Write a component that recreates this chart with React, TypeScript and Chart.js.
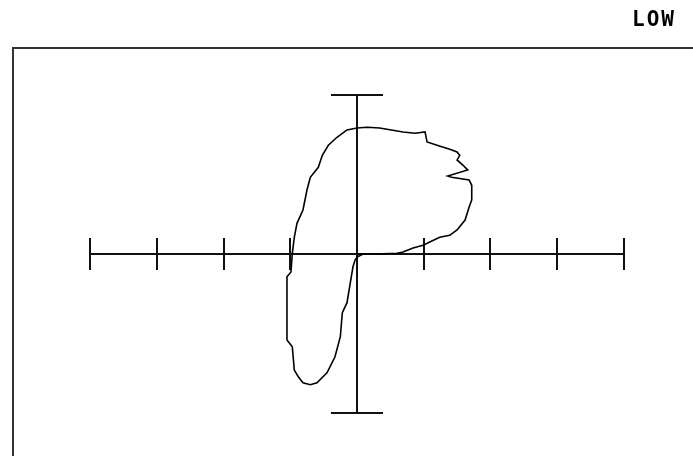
import React, { useEffect, useRef } from "react";
import { Chart, registerables } from "chart.js";

Chart.register(...registerables);

// Loop trace (x, y) in axis units, one unit per tick on the horizontal axis
const traceX = [
  0, 0.27, 0.6, 0.69, 0.84, 0.99, 1.09, 1.24, 1.39, 1.5, 1.62, 1.68, 1.72, 1.72, 1.68, 1.42, 1.36, 1.66, 1.59, 1.5,
  1.54, 1.5, 1.39, 1.2, 1.05, 1.02, 0.87, 0.69, 0.34, 0.15, 0, -0.15, -0.3, -0.43, -0.52, -0.58, -0.7, -0.75, -0.81,
  -0.9, -0.94, -0.97, -0.99, -1.05, -1.05, -0.97, -0.94, -0.88, -0.81, -0.7, -0.6, -0.45, -0.33, -0.25, -0.22, -0.15,
  -0.1, -0.06, -0.03, 0.01, 0.07,
];
const traceY = [
  0, 0, 0.01, 0.03, 0.09, 0.13, 0.18, 0.25, 0.28, 0.36, 0.51, 0.7, 0.81, 1.03, 1.11, 1.15, 1.17, 1.26, 1.33, 1.41,
  1.48, 1.53, 1.57, 1.63, 1.68, 1.83, 1.81, 1.83, 1.89, 1.9, 1.89, 1.86, 1.75, 1.63, 1.48, 1.3, 1.15, 0.96, 0.66,
  0.46, 0.25, 0.01, -0.27, -0.34, -1.29, -1.39, -1.74, -1.84, -1.93, -1.96, -1.93, -1.78, -1.54, -1.24, -0.88, -0.73,
  -0.43, -0.19, -0.09, -0.04, -0.01,
];

// Horizontal axis tick positions
const xTicks = [-4, -3, -2, -1, 0, 1, 2, 3, 4];
// Vertical axis extent (end caps)
const yAxisEnds = [-2.385, 2.385];
// Frame corner (left, top) in axis units
const frameCorner = [-5.16, 3.09];
const modeLabel = "LOW";

const X_MIN = -5.352;
const X_MAX = 5.037;
const Y_MIN = -3.028;
const Y_MAX = 3.808;

const overlay = {
  id: "scopeOverlay",
  beforeDatasetsDraw(chart: any) {
    const { ctx } = chart;
    const xs = chart.scales.x;
    const ys = chart.scales.y;
    const px = (v: number) => xs.getPixelForValue(v);
    const py = (v: number) => ys.getPixelForValue(v);
    ctx.save();
    ctx.lineCap = "butt";

    // frame
    ctx.strokeStyle = "#333";
    ctx.lineWidth = 2;
    ctx.beginPath();
    const fl = Math.round(px(frameCorner[0]));
    const ft = Math.round(py(frameCorner[1]));
    ctx.moveTo(fl, chart.height + 5);
    ctx.lineTo(fl, ft);
    ctx.lineTo(chart.width + 5, ft);
    ctx.stroke();

    // horizontal axis with ticks
    ctx.strokeStyle = "#111";
    ctx.lineWidth = 2;
    const y0 = Math.round(py(0));
    ctx.beginPath();
    ctx.moveTo(px(xTicks[0]), y0);
    ctx.lineTo(px(xTicks[xTicks.length - 1]), y0);
    ctx.stroke();
    const tickHalf = py(0) - py(0.24);
    xTicks.forEach((t) => {
      const x = Math.round(px(t));
      ctx.beginPath();
      ctx.moveTo(x, y0 - tickHalf);
      ctx.lineTo(x, y0 + tickHalf);
      ctx.stroke();
    });

    // vertical axis with end caps
    const x0 = Math.round(px(0));
    const capHalf = px(0.39) - px(0);
    ctx.beginPath();
    ctx.moveTo(x0, py(yAxisEnds[1]));
    ctx.lineTo(x0, py(yAxisEnds[0]));
    ctx.stroke();
    yAxisEnds.forEach((e) => {
      const y = Math.round(py(e));
      ctx.beginPath();
      ctx.moveTo(x0 - capHalf, y);
      ctx.lineTo(x0 + capHalf, y);
      ctx.stroke();
    });

    // mode label
    ctx.fillStyle = "#000";
    ctx.font = "bold 21px 'DejaVu Sans Mono'";
    (ctx as any).letterSpacing = "2px";
    ctx.textAlign = "left";
    ctx.textBaseline = "middle";
    ctx.fillText(modeLabel, 632, 21);
    ctx.restore();
  },
};

export default function App() {
  const canvasRef = useRef<HTMLCanvasElement | null>(null);

  useEffect(() => {
    if (!canvasRef.current) return;
    const points = traceX.map((x, i) => ({ x, y: traceY[i] }));
    points.push({ x: traceX[0], y: traceY[0] });
    const chart = new Chart(canvasRef.current, {
      type: "scatter",
      data: {
        datasets: [
          {
            data: points,
            showLine: true,
            borderColor: "#000",
            borderWidth: 1.6,
            pointRadius: 0,
            tension: 0,
            fill: false,
          },
        ],
      },
      options: {
        responsive: false,
        animation: false,
        layout: { padding: 0 },
        plugins: { legend: { display: false }, tooltip: { enabled: false } },
        scales: {
          x: { type: "linear", display: false, min: X_MIN, max: X_MAX },
          y: { type: "linear", display: false, min: Y_MIN, max: Y_MAX },
        },
      },
      plugins: [overlay],
    });
    return () => chart.destroy();
  }, []);

  return (
    <div style={{ position: "absolute", left: 0, top: 0, width: 693, height: 456, background: "#fff" }}>
      <canvas ref={canvasRef} width={693} height={456} style={{ display: "block" }} />
    </div>
  );
}
